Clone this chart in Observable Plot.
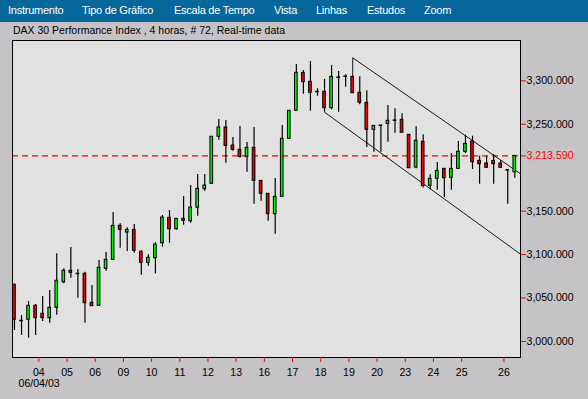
<!DOCTYPE html>
<html>
<head>
<meta charset="utf-8">
<script src="https://cdn.jsdelivr.net/npm/d3@7"></script>
<script src="https://cdn.jsdelivr.net/npm/@observablehq/plot@0.6"></script>
<style>
  html, body { margin: 0; padding: 0; }
  body { width: 588px; height: 399px; overflow: hidden; background: #c6c3c6;
         font-family: "Liberation Sans", Arial, sans-serif; position: relative; }
  #menu { position: absolute; left: 0; top: 0; width: 588px; height: 22px; background: #05679a; }
  #menu span { position: absolute; top: 0; line-height: 20px; color: #fff; font-size: 11px; letter-spacing: -0.25px; white-space: nowrap; }
  #title { position: absolute; left: 13px; top: 22px; height: 16px; line-height: 16px; font-size: 10.5px; color: #000; white-space: nowrap; }
  #chart { position: absolute; left: 0; top: 38px; }
</style>
</head>
<body>
<div id="menu"></div>
<div id="title"></div>
<div id="chart"></div>
<script>
// ---- data ----
const menuItems = ["Instrumento", "Tipo de Gráfico", "Escala de Tempo", "Vista", "Linhas", "Estudos", "Zoom"];
const menuX = [8, 82, 174, 274, 316, 367, 424];
const titleText = "DAX 30 Performance Index , 4 horas, # 72, Real-time data";
const dateLabel = "06/04/03";

const open  = [3065.3,3024.2,3025.0,3041.1,3031.9,3026.8,3038.8,3068.2,3081.4,3078.3,3077.9,3044.5,3041.1,3083.7,3094.0,3133.1,3125.4,3128.5,3103.2,3090.6,3095.9,3113.1,3142.4,3129.2,3141.2,3138.4,3153.9,3175.3,3181.5,3235.6,3246.3,3225.5,3220.6,3212.5,3222.9,3184.9,3170.0,3146.5,3166.5,3233.3,3265.5,3309.2,3298.8,3287.7,3287.3,3268.5,3304.1,3305.3,3304.6,3286.2,3274.7,3243.6,3248.9,3250.5,3254.7,3255.1,3237.9,3200.2,3229.8,3179.2,3187.2,3198.7,3188.4,3198.7,3218.3,3230.2,3207.9,3204.8,3207.9,3204.8,3197.6,3194.8];
const high  = [3066.0,3029.9,3046.0,3042.6,3051.8,3058.7,3100.9,3083.7,3108.2,3082.9,3079.8,3064.5,3093.2,3102.4,3148.5,3135.4,3130.8,3134.6,3104.7,3099.8,3113.9,3145.0,3150.8,3141.2,3166.9,3179.5,3192.2,3192.2,3235.6,3255.5,3254.3,3234.8,3247.4,3229.0,3246.3,3184.9,3170.0,3187.6,3248.6,3265.5,3318.8,3311.9,3322.2,3290.8,3301.5,3317.6,3310.7,3306.9,3304.6,3304.6,3288.5,3248.2,3248.9,3271.6,3267.8,3262.0,3237.9,3247.1,3237.9,3191.8,3206.0,3198.7,3216.3,3230.2,3237.4,3236.3,3213.2,3212.9,3215.2,3208.3,3197.6,3213.6];
const low   = [3012.7,3006.9,3003.8,3006.9,3023.0,3021.1,3030.3,3066.4,3072.9,3049.8,3021.1,3040.6,3040.6,3080.9,3094.0,3107.4,3103.6,3101.6,3076.3,3086.7,3077.9,3108.5,3113.1,3128.1,3133.8,3136.1,3144.2,3173.0,3181.5,3231.6,3205.2,3219.0,3210.9,3194.8,3158.0,3161.5,3138.4,3123.5,3166.5,3233.3,3265.5,3284.6,3265.0,3282.3,3264.7,3266.6,3263.9,3292.6,3285.7,3272.4,3223.2,3217.8,3217.8,3229.3,3239.7,3240.2,3199.4,3198.7,3176.6,3174.6,3174.1,3165.7,3174.1,3198.7,3216.3,3197.9,3181.0,3199.9,3181.0,3199.9,3158.0,3187.9];
const close = [3025.0,3024.2,3041.1,3026.8,3026.8,3038.8,3069.9,3081.4,3079.1,3078.3,3044.1,3040.6,3084.8,3094.0,3133.1,3128.5,3128.5,3104.4,3090.6,3096.3,3111.6,3142.7,3129.2,3141.2,3138.9,3154.2,3175.7,3179.5,3235.6,3246.3,3225.2,3220.6,3212.5,3222.9,3184.9,3170.0,3146.5,3166.5,3233.3,3265.5,3309.2,3298.4,3286.2,3287.7,3268.5,3304.6,3304.1,3305.3,3285.7,3274.7,3243.6,3248.2,3248.9,3254.0,3254.7,3240.2,3199.4,3231.0,3178.9,3187.2,3196.4,3187.9,3198.7,3218.3,3227.5,3206.3,3204.0,3199.9,3204.0,3199.9,3197.6,3213.59];

const lastPrice = 3213.59;
const yTickValues = [3000, 3050, 3100, 3150, 3250, 3300];
const dayLabels = ["04","05","06","09","10","11","12","13","16","17","18","19","20","23","24","25","26"];
const dayFirstBar = [4, 8, 12, 16, 20, 24, 28, 32, 36, 40, 44, 48, 52, 56, 60, 64, 70];

// drawn trend channel (bar index, price)
const channelUpper = [[48, 3304.6], [48, 3326.5], [71.81, 3193.0]];
const channelLower = [[44, 3268.5], [44, 3263.9], [71.81, 3100.5]];

// ---- page chrome ----
const menu = document.getElementById("menu");
menuItems.forEach((t, i) => {
  const s = document.createElement("span");
  s.textContent = t; s.style.left = menuX[i] + "px";
  menu.appendChild(s);
});
document.getElementById("title").textContent = titleText;

// ---- chart ----
const UP = "#00ee00", DOWN = "#ee0000";
const bars = open.map((o, i) => ({i, o, h: high[i], l: low[i], c: close[i]}));
const dojis = bars.filter(d => d.o === d.c);
const tickPos = dayFirstBar.map(b => b - 0.4);
const labelAt = new Map(tickPos.map((p, k) => [p, dayLabels[k]]));
const fmt = d3.format(",.3f");

const chart = Plot.plot({
  width: 588, height: 361,
  marginLeft: 12, marginRight: 68, marginTop: 2, marginBottom: 42,
  x: {domain: [-0.28, 71.81], axis: null, label: null},
  y: {domain: [2981.6, 3346.4], axis: null, label: null},
  color: {type: "identity"},
  style: {background: "transparent", fontFamily: "'Liberation Sans', Arial, sans-serif", fontSize: "10.6px", color: "black", overflow: "visible"},
  marks: [
    Plot.frame({fill: "#e1e1e1", stroke: null}),
    Plot.ruleY([lastPrice], {stroke: "#ff0000", strokeWidth: 1.3, strokeDasharray: "6,4"}),
    Plot.line(channelUpper, {stroke: "black", strokeWidth: 0.9, clip: true}),
    Plot.line(channelLower, {stroke: "black", strokeWidth: 0.9, clip: true}),
    Plot.ruleX(bars, {x: "i", y1: "l", y2: "h", stroke: "black", strokeWidth: 1.2}),
    Plot.rect(bars, {x1: d => d.i - 0.19, x2: d => d.i + 0.19, y1: "o", y2: "c",
      fill: d => d.c >= d.o ? UP : DOWN, stroke: "black", strokeWidth: 1}),
    Plot.ruleY(dojis, {y: "o", x1: d => d.i - 0.26, x2: d => d.i + 0.26, stroke: "black", strokeWidth: 1.5}),
    Plot.frame({stroke: "black", strokeWidth: 1}),
    Plot.axisY({anchor: "right", label: null, ticks: yTickValues, tickFormat: fmt, tickSize: 5, tickPadding: 1, stroke: "#ff0000", fill: "black"}),
    Plot.axisY({anchor: "right", label: null, ticks: [lastPrice], tickFormat: fmt, tickSize: 5, tickPadding: 1, stroke: "#ff0000", fill: "#ff0000"}),
    Plot.axisX({anchor: "bottom", label: null, ticks: tickPos, tickFormat: d => labelAt.get(d), tickSize: 5, tickPadding: 6, stroke: "#ff0000", fill: "black", dx: -1}),
    Plot.text([dateLabel], {text: d => d, frameAnchor: "bottom-left", dx: 6, dy: 29, textAnchor: "start", fill: "black"})
  ]
});
document.getElementById("chart").appendChild(chart);
</script>
</body>
</html>
